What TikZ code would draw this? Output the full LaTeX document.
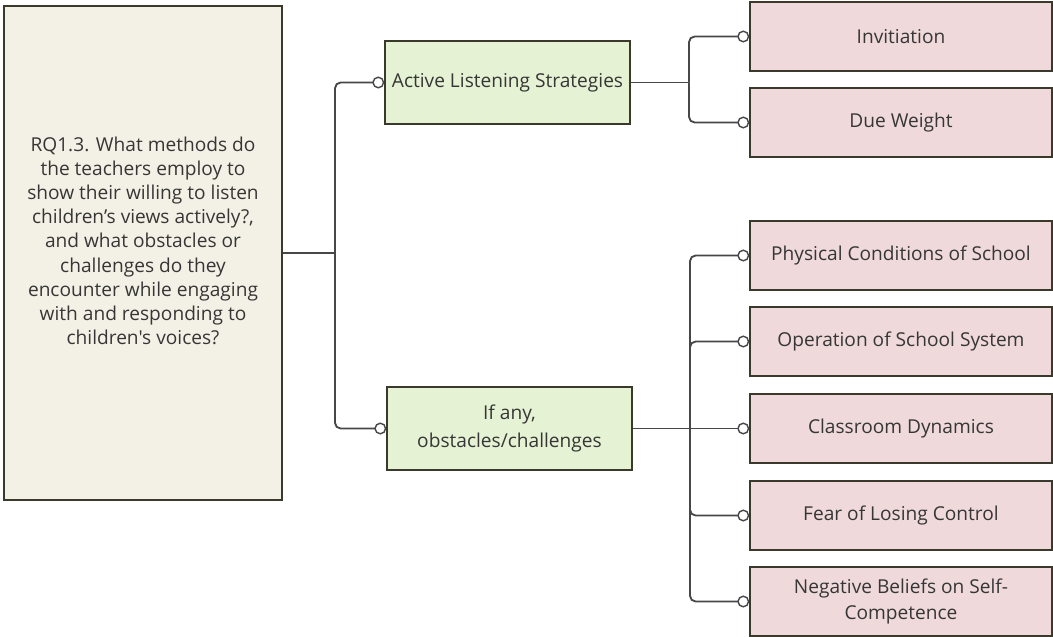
\documentclass[tikz,border=0pt]{standalone}
\usepackage{fontspec}
\setmainfont{Open Sans}[Ligatures=TeXOff]
\usetikzlibrary{arrows.meta}
\definecolor{boxline}{HTML}{3B382C}
\definecolor{linegray}{HTML}{474747}
\definecolor{textgray}{HTML}{363636}
\definecolor{rqfill}{HTML}{F3F1E5}
\definecolor{themefill}{HTML}{E6F2D4}
\definecolor{codefill}{HTML}{EFD9DA}

\begin{document}
\begin{tikzpicture}[x=0.025cm, y=-0.025cm,
	every node/.style={draw=boxline, line width=1pt, align=center, inner sep=0pt,
		text=textgray, font=\fontsize{13.6}{17.2}\selectfont},
	rq/.style={fill=rqfill, minimum width=6.95cm, minimum height=12.35cm},
	theme/.style={fill=themefill, minimum width=6.125cm, minimum height=2.075cm,
		font=\fontsize{13.6}{19.5}\selectfont},
	code/.style={fill=codefill, minimum width=7.55cm, minimum height=1.725cm,
		font=\fontsize{13.6}{18.5}\selectfont},
	wire/.style={draw=linegray, line width=1.3pt, rounded corners=4pt},
	link/.style={wire, -{Circle[length=8.5pt, line width=1pt, fill=white]}}]
	\useasboundingbox (0,0) rectangle (1053,637);

	\node[rq] (RQ) at (143,253) {\raisebox{7pt}[\height][\depth]{\begin{tabular}{@{}c@{}}
		RQ1.3. What methods do\\the teachers employ to\\show their willing to listen\\children’s views actively?,\\and what obstacles or\\challenges do they\\encounter while engaging\\with and responding to\\children's voices?\end{tabular}}};

	\node[theme] (ALS) at (507.5,82.5) {Active Listening Strategies};
	\node[theme] (OBS) at (509.5,428.5) {If any,\\obstacles/challenges};

	\node[code] (INV) at (901,36.5)  {Invitiation};
	\node[code] (DUE) at (901,122.5) {Due Weight};
	\node[code] (PHY) at (901,255.5) {Physical Conditions of School};
	\node[code] (OPE) at (901,341.5) {Operation of School System};
	\node[code] (CLA) at (901,428.5) {Classroom Dynamics};
	\node[code] (FEA) at (901,515.5) {Fear of Losing Control};
	\node[code] (NEG) at (901,601.5) {Negative Beliefs on Self-\\Competence};

	% junctions
	\coordinate (J1) at (335,253);
	\coordinate (J2) at (689,82.5);
	\coordinate (J3) at (690,428.5);

	\draw[wire] (RQ.east) -- (J1);
	\draw[link] (J1) |- (ALS.west);
	\draw[link] (J1) |- (OBS.west);

	\draw[wire] (ALS.east) -- (J2);
	\draw[link] (J2) |- (INV.west);
	\draw[link] (J2) |- (DUE.west);

	\draw[wire] (OBS.east) -- (J3);
	\draw[link] (J3) |- (PHY.west);
	\draw[link] (J3) |- (OPE.west);
	\draw[link] (J3) -- (CLA.west);
	\draw[link] (J3) |- (FEA.west);
	\draw[link] (J3) |- (NEG.west);
\end{tikzpicture}
\end{document}
